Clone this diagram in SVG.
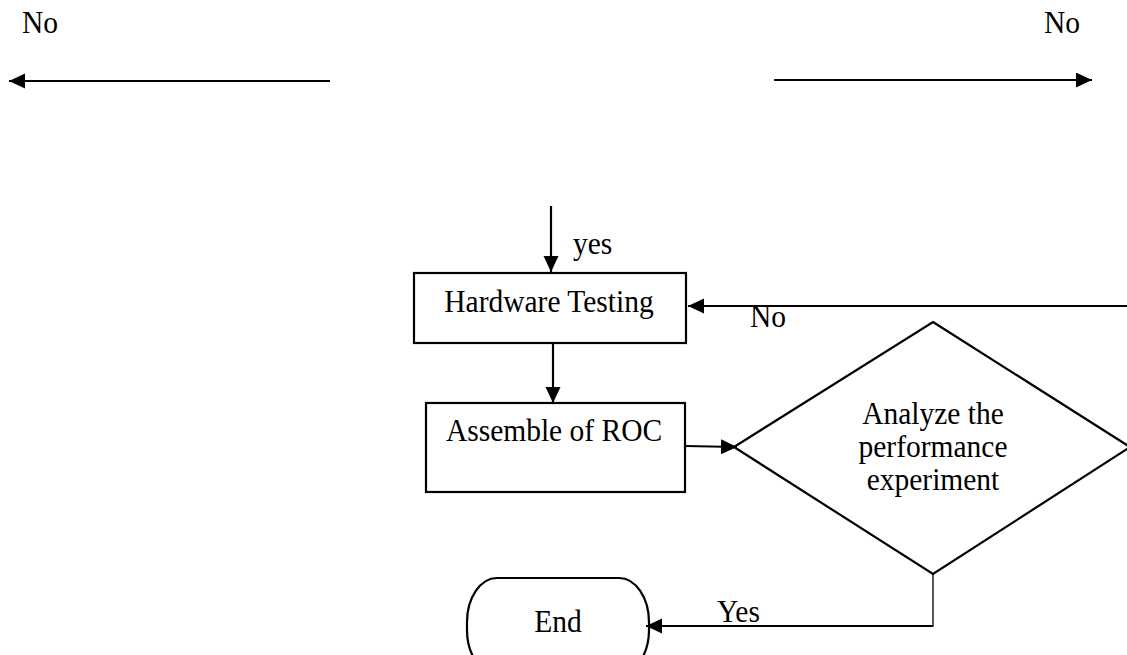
<svg xmlns="http://www.w3.org/2000/svg" width="1127" height="655" viewBox="0 0 1127 655">
<style>
.t{font-family:"Liberation Serif","Times New Roman",serif;font-size:29.5px;fill:#000}
.m{text-anchor:middle}
.s{fill:none;stroke:#000;stroke-width:2.2}
.c{fill:none;stroke:#000;stroke-width:2.2}
</style>
<defs>
<marker id="ah" markerUnits="userSpaceOnUse" markerWidth="17" markerHeight="16" refX="16" refY="7.5" orient="auto">
<path d="M0,0 L16,7.5 L0,15 z" fill="#000"/>
</marker>
</defs>
<rect width="1127" height="655" fill="#fff"/>
<g id="connectors">
<line class="c" x1="330" y1="81" x2="9" y2="81" marker-end="url(#ah)"/>
<line class="c" x1="774" y1="80" x2="1092" y2="80" marker-end="url(#ah)"/>
<line class="c" x1="551" y1="206" x2="551" y2="272" marker-end="url(#ah)"/>
<line class="c" x1="553" y1="344" x2="553" y2="403" marker-end="url(#ah)"/>
<line class="c" x1="685" y1="446" x2="737" y2="447" marker-end="url(#ah)"/>
<line class="c" x1="1127" y1="306" x2="688" y2="306" marker-end="url(#ah)"/>
<polyline fill="none" stroke="#000" stroke-width="1.3" points="933,574 933,626 800,626"/>
<line class="c" x1="933" y1="626" x2="646" y2="626" marker-end="url(#ah)"/>
<text class="t" transform="translate(22,33) scale(1,1.06)">No</text>
<text class="t" transform="translate(1044,33) scale(1,1.06)">No</text>
<text class="t" transform="translate(573,254) scale(1,1.06)">yes</text>
<text class="t" transform="translate(750,327) scale(1,1.06)">No</text>
<text class="t" transform="translate(717,622) scale(1,1.06)">Yes</text>
</g>
<g id="hardware-testing">
<rect class="s" x="414" y="273" width="272" height="70"/>
<text class="t m" transform="translate(549,312) scale(1,1.06)">Hardware Testing</text>
</g>
<g id="assemble-roc">
<rect class="s" x="426" y="403" width="259" height="89"/>
<text class="t m" transform="translate(554,441) scale(1,1.06)">Assemble of ROC</text>
</g>
<g id="analyze">
<polygon class="s" points="933,322 1130,447 933,574 734,447"/>
<text class="t m" transform="translate(933,424) scale(1,1.06)">Analyze the</text>
<text class="t m" transform="translate(933,457) scale(1,1.06)">performance</text>
<text class="t m" transform="translate(933,490) scale(1,1.06)">experiment</text>
</g>
<g id="end">
<rect class="s" x="467" y="578" width="182" height="96" rx="30" ry="44"/>
<text class="t m" transform="translate(558,632) scale(1,1.06)">End</text>
</g>
</svg>
